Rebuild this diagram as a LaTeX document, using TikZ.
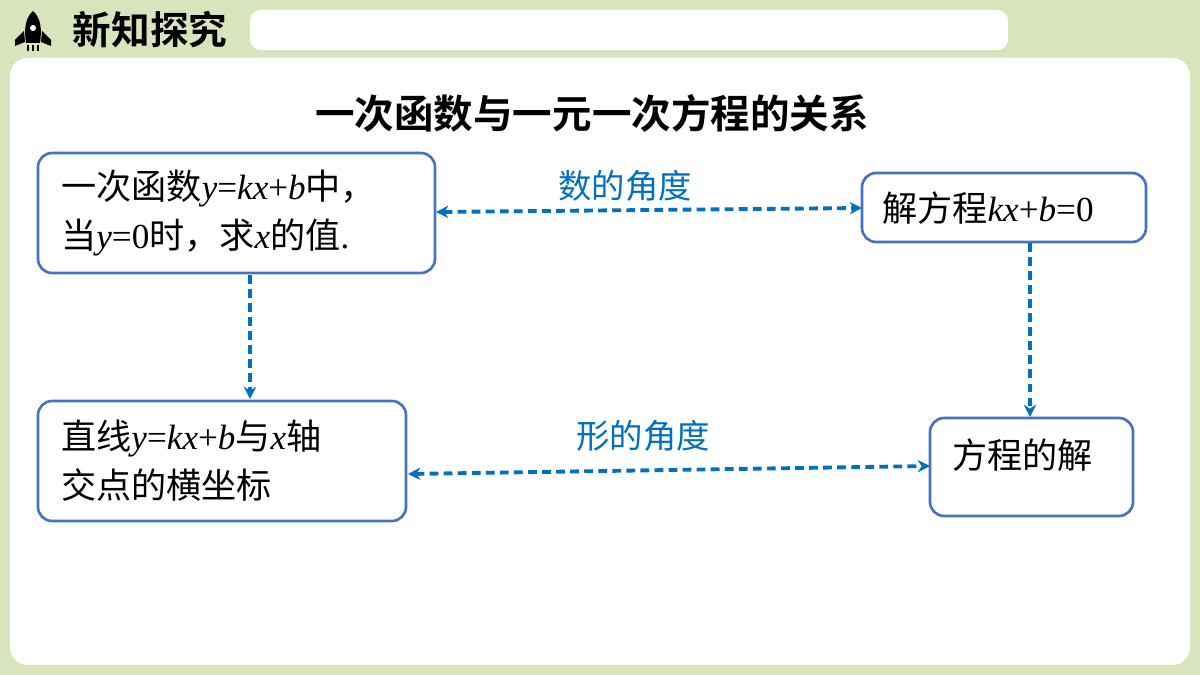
\documentclass[tikz,border=0pt]{standalone}
\usepackage{fontspec}
\setmainfont{Liberation Serif}
\newfontfamily\cjk{Noto Sans CJK SC}
\newfontfamily\cjkb{Noto Sans CJK SC Bold}
\newfontfamily\latin{Liberation Serif}
\newcommand{\mv}[1]{{\latin\itshape #1}}
\newcommand{\mn}[1]{{\latin #1}}
\usetikzlibrary{positioning, arrows.meta}
\definecolor{bggreen}{HTML}{D8E4BC}
\definecolor{boxblue}{HTML}{4472C4}
\definecolor{arrblue}{HTML}{0070C0}
\tikzset{
  box/.style={draw=boxblue, line width=1.5pt, rounded corners=8pt, fill=white},
  rel/.style={draw=arrblue, line width=2.2pt, dash pattern=on 5pt off 3pt, {Stealth[length=7pt,width=7pt]}-{Stealth[length=7pt,width=7pt]}},
  lead/.style={draw=arrblue, line width=2.2pt, dash pattern=on 5pt off 3pt, -{Stealth[length=7pt,width=7pt]}},
  boxtext/.style={font=\cjk\fontsize{20}{28}\selectfont, align=left, anchor=west},
  angle/.style={font=\cjk\fontsize{19}{22}\selectfont, text=arrblue}
}
\begin{document}
\begin{tikzpicture}[x=0.02cm, y=-0.02cm]
  \fill[bggreen] (0,0) rectangle (1200,675);
  \useasboundingbox (0,0) rectangle (1200,675);
  % header
  \fill[white, rounded corners=6pt] (250,10) rectangle (1008,50);
  \fill[white, rounded corners=10pt] (10,58) rectangle (1190,665);
  % rocket
  \fill[black] (33,11) .. controls (25,18) and (24,30) .. (26,43) -- (40,43) .. controls (42,30) and (41,18) .. (33,11) -- cycle;
  \fill[black] (24,31) -- (15,40) -- (15,46) -- (25,42) -- cycle;
  \fill[black] (42,31) -- (51,40) -- (51,46) -- (41,42) -- cycle;
  \fill[white] (33,28) circle (3);
  \foreach \fx in {28,33,38} \fill[black] (\fx-1,45) rectangle (\fx+1,51);
  \node[font=\cjkb\fontsize{22}{24}\selectfont] (head) at (150,30) {新知探究};
  % title
  \node[font=\cjkb\fontsize{22.5}{24}\selectfont] (title) at (592,113) {一次函数与一元一次方程的关系};
  % boxes
  \draw[box] (38,153) rectangle (435,273);
  \node[boxtext] (func) at (55,213) {一次函数\mv{y}\mn{=}\mv{kx}\mn{+}\mv{b}中，\\当\mv{y}\mn{=0}时，求\mv{x}的值\mn{.}};
  \draw[box] (862,173) rectangle (1146,242);
  \node[boxtext] (eqn) at (876,208) {解方程\mv{kx}\mn{+}\mv{b}\mn{=0}};
  \draw[box] (38,401) rectangle (406,521);
  \node[boxtext] (line) at (55,461) {直线\mv{y}\mn{=}\mv{kx}\mn{+}\mv{b}与\mv{x}轴\\交点的横坐标};
  \draw[box] (930,418) rectangle (1133,516);
  \node[boxtext] (sol) at (946,455) {方程的解};
  % connectors
  \coordinate (fR) at (436,212);
  \coordinate (eL) at (862,208);
  \coordinate (fB) at (250,275);
  \coordinate (lT) at (250,399);
  \coordinate (eB) at (1030,243);
  \coordinate (sT) at (1030,417);
  \coordinate (lR) at (408,474);
  \coordinate (sL) at (930,466);
  \draw[rel] (fR) -- (eL);
  \draw[rel] (lR) -- (sL);
  \draw[lead] (fB) -- (lT);
  \draw[lead] (eB) -- (sT);
  \node[angle] (numview) at (625,186) {数的角度};
  \node[angle] (shapeview) at (643,436) {形的角度};
\end{tikzpicture}
\end{document}
